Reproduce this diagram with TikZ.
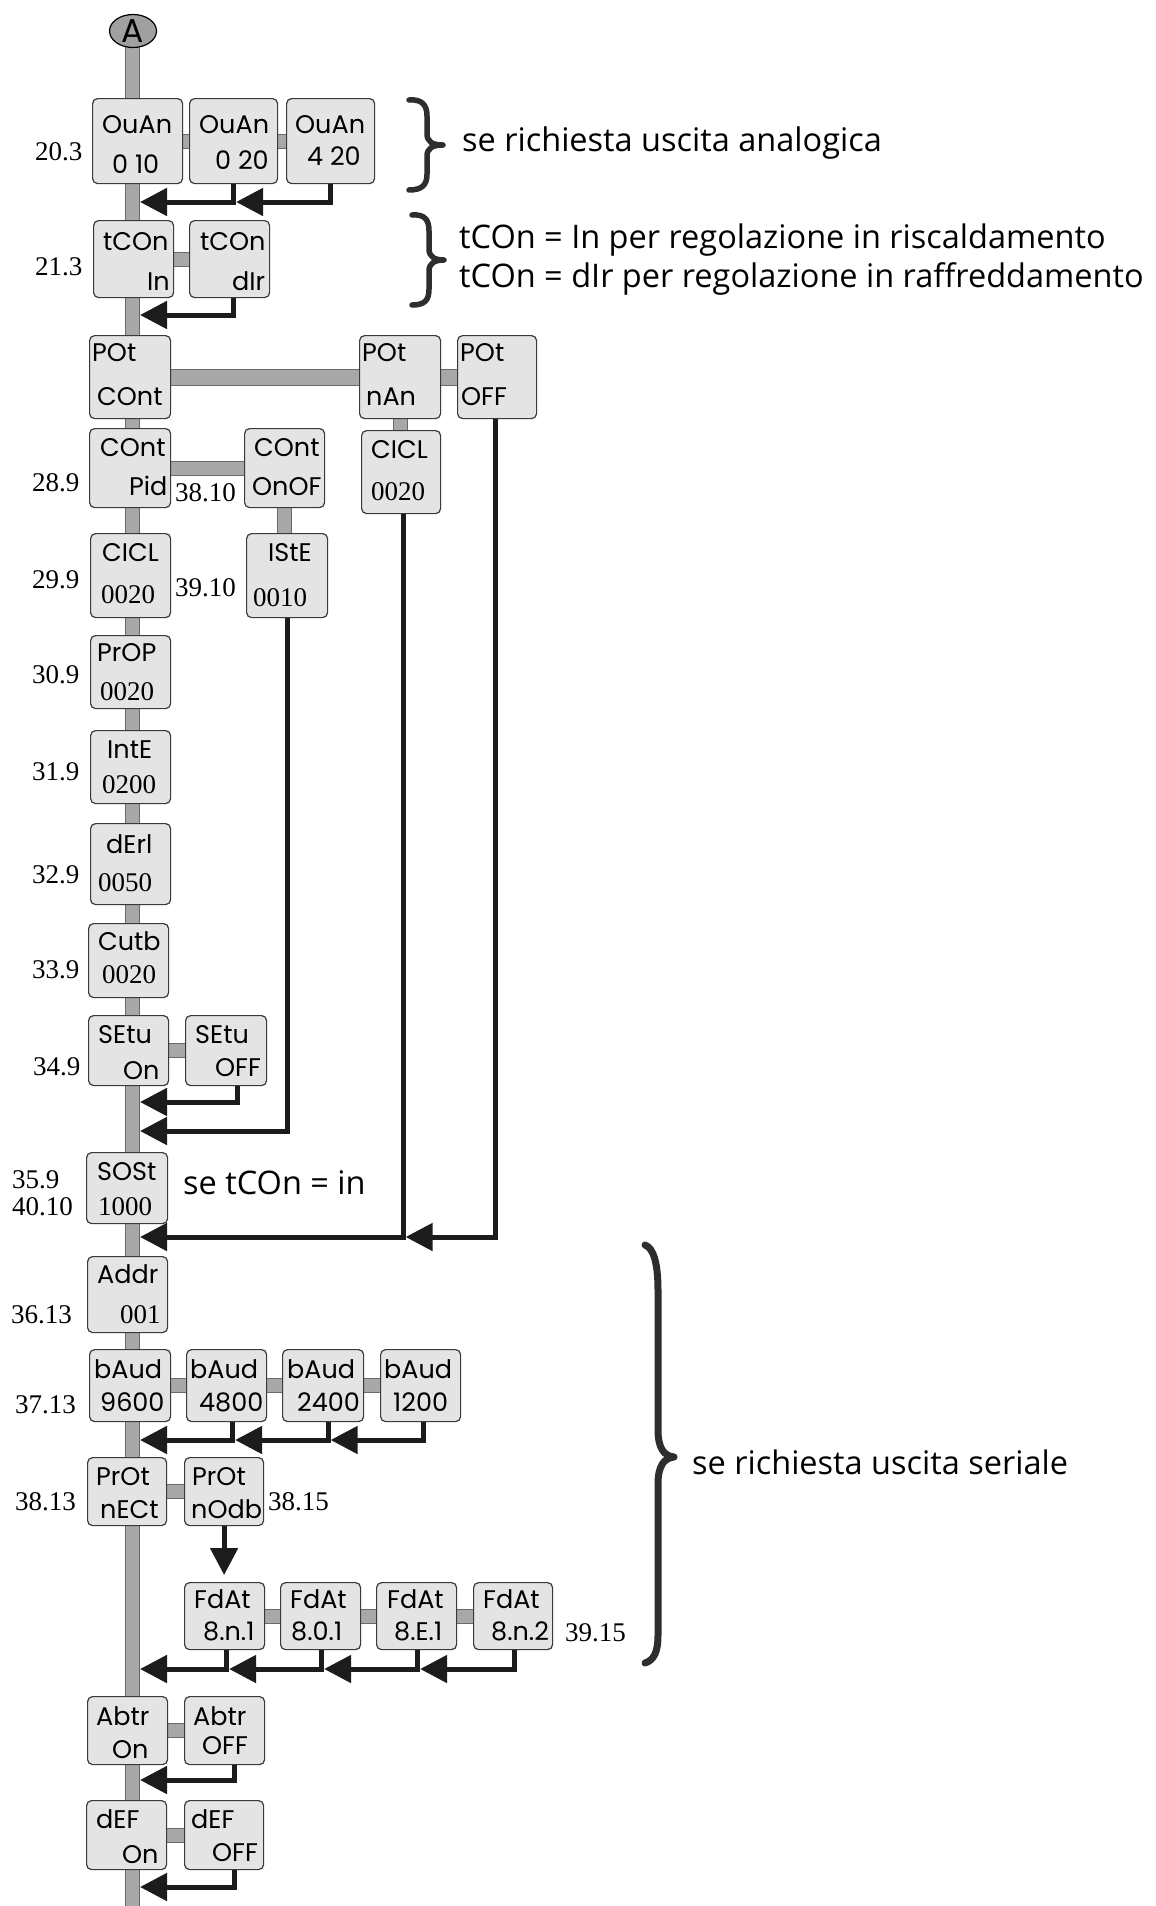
\documentclass[tikz,border=0pt]{standalone}
\usepackage{fontspec}
\setmainfont{Liberation Serif}
\newfontfamily\gothic{Poppins}
\newfontfamily\comic{Open Sans}
\usetikzlibrary{arrows.meta,shapes.geometric,backgrounds}

\definecolor{boxfill}{HTML}{E4E4E4}
\definecolor{boxedge}{HTML}{3A3A3A}
\definecolor{barfill}{HTML}{A8A8A8}
\definecolor{baredge}{HTML}{6A6A6A}
\definecolor{circfill}{HTML}{A0A0A0}
\definecolor{inkdark}{HTML}{1C1C1C}
\definecolor{bracecol}{HTML}{2E2E2E}

\tikzset{
  pbox/.style={draw=boxedge, fill=boxfill, line width=1.2pt, rounded corners=5pt,
    inner sep=0pt, anchor=north west},
  lab/.style={font=\gothic\fontsize{25.5}{25.5}\selectfont, inner sep=0pt, anchor=west,
    text height=0.7em, text depth=0pt, yshift=-5pt},
  val/.style={font=\fontsize{27}{27}\selectfont, inner sep=0pt, anchor=west,
    text height=0.66em, text depth=0pt, yshift=-5pt},
  side/.style={font=\fontsize{27}{27}\selectfont, inner sep=0pt, anchor=west,
    text height=0.66em, text depth=0pt, yshift=-5pt},
  note/.style={font=\comic\fontsize{32.5}{32.5}\selectfont, inner sep=0pt, anchor=base west},
  bar/.style={draw=baredge, line width=1pt, double=barfill, double distance=13pt},
  widebar/.style={bar, double distance=15pt},
  arr/.style={draw=inkdark, line width=5pt, -{Triangle[length=27pt,width=27pt]}},
  brc/.style={draw=bracecol, line width=5.5pt, line cap=round, line join=round},
}

% panel: name, left x, top y, width, height
\newcommand\drawpanel[5]{\node[pbox, minimum width=#4pt, minimum height=#5pt] (#1) at (#2,#3) {};}
% text inside a panel or beside it: [style], name, left x, centre y, text
\newcommand\paneltext[5][lab]{\node[#1] (#2) at (#3,#4) {#5};}

\begin{document}
\begin{tikzpicture}[x=1pt, y=-1pt]
\useasboundingbox (0,0) rectangle (1156,1906);
\begin{scope}[on background layer]
  \fill[white] (0,0) rectangle (1156,1906);
\end{scope}

% start marker
\node[ellipse, draw=black, line width=1.2pt, fill=circfill, minimum width=47pt,
  minimum height=33pt, inner sep=0pt, font=\gothic\fontsize{33}{33}\selectfont] (A) at (133,31) {A};
\coordinate (trunkEnd) at (132,1912);

% ---- panels ----
\drawpanel{ouanA}{92}{98}{90}{85}
\drawpanel{ouanB}{189}{98}{88}{85}
\drawpanel{ouanC}{286}{98}{88}{85}
\drawpanel{tconA}{93}{220}{80}{77}
\drawpanel{tconB}{189}{220}{80}{77}
\drawpanel{potA}{89}{335}{81}{83}
\drawpanel{potB}{359}{335}{81}{83}
\drawpanel{potC}{457}{335}{79}{83}
\drawpanel{contA}{89}{428}{81}{79}
\drawpanel{contB}{244}{428}{80}{79}
\drawpanel{ciclB}{361}{430}{79}{83}
\drawpanel{ciclA}{90}{533}{80}{84}
\drawpanel{iste}{246}{533}{81}{84}
\drawpanel{prop}{90}{635}{80}{73}
\drawpanel{inte}{90}{730}{80}{73}
\drawpanel{derl}{90}{823}{80}{81}
\drawpanel{cutb}{88}{923}{80}{74}
\drawpanel{setuA}{88}{1015}{80}{70}
\drawpanel{setuB}{185}{1015}{81}{70}
\drawpanel{sost}{86}{1152}{81}{71}
\drawpanel{addr}{87}{1256}{80}{76}
\drawpanel{baudA}{89}{1349}{81}{72}
\drawpanel{baudB}{186}{1349}{80}{72}
\drawpanel{baudC}{282}{1349}{81}{72}
\drawpanel{baudD}{380}{1349}{80}{72}
\drawpanel{protA}{87}{1457}{79}{68}
\drawpanel{protB}{184}{1457}{79}{68}
\drawpanel{fdatA}{184}{1582}{80}{67}
\drawpanel{fdatB}{280}{1582}{80}{67}
\drawpanel{fdatC}{376}{1582}{80}{67}
\drawpanel{fdatD}{473}{1582}{79}{67}
\drawpanel{abtrA}{87}{1696}{80}{68}
\drawpanel{abtrB}{184}{1696}{80}{68}
\drawpanel{defA}{86}{1800}{80}{69}
\drawpanel{defB}{184}{1800}{79}{69}

% ---- grey bars behind the panels ----
\begin{scope}[on background layer]
  \draw[bar] (trunkEnd |- A) -- (trunkEnd);
  \draw[bar] (ouanA.east) -- (ouanB.west);
  \draw[bar] (ouanB.east) -- (ouanC.west);
  \draw[bar] (tconA.east) -- (tconB.west);
  \draw[widebar] (potA.east) -- (potB.west);
  \draw[widebar] (potB.east) -- (potC.west);
  \draw[bar] (contA.east) -- (contB.west);
  \draw[bar] (potB.south) -- (potB.south |- ciclB.north);
  \draw[bar] (contB.south) -- (contB.south |- iste.north);
  \draw[bar] (setuA.east) -- (setuB.west);
  \draw[bar] (baudA.east) -- (baudB.west);
  \draw[bar] (baudB.east) -- (baudC.west);
  \draw[bar] (baudC.east) -- (baudD.west);
  \draw[bar] (protA.east) -- (protB.west);
  \draw[bar] (fdatA.east) -- (fdatB.west);
  \draw[bar] (fdatB.east) -- (fdatC.west);
  \draw[bar] (fdatC.east) -- (fdatD.west);
  \draw[bar] (abtrA.east) -- (abtrB.west);
  \draw[bar] (defA.east) -- (defB.west);
\end{scope}

% ---- panel texts ----
\paneltext{ouanA-t}{102}{125}{OuAn} \paneltext{ouanA-b}{112}{165}{0 10}
\paneltext{ouanB-t}{199}{125}{OuAn} \paneltext{ouanB-b}{215}{161}{0 20}
\paneltext{ouanC-t}{295}{125}{OuAn} \paneltext{ouanC-b}{307}{157}{4 20}
\paneltext{tconA-t}{103}{242}{tCOn} \paneltext{tconA-b}{147}{282}{In}
\paneltext{tconB-t}{200}{242}{tCOn} \paneltext{tconB-b}{232}{282}{dIr}
\paneltext{potA-t}{92}{353}{POt}    \paneltext{potA-b}{97}{397}{COnt}
\paneltext{potB-t}{362}{353}{POt}   \paneltext{potB-b}{366}{397}{nAn}
\paneltext{potC-t}{460}{353}{POt}   \paneltext{potC-b}{461}{397}{OFF}
\paneltext{contA-t}{100}{448}{COnt} \paneltext{contA-b}{129}{487}{Pid}
\paneltext{contB-t}{254}{448}{COnt} \paneltext{contB-b}{252}{487}{OnOF}
\paneltext{ciclB-t}{371}{450}{CICL} \paneltext[val]{ciclB-b}{371}{492}{0020}
\paneltext{ciclA-t}{102}{553}{CICL} \paneltext[val]{ciclA-b}{101}{595}{0020}
\paneltext{iste-t}{268}{553}{IStE}  \paneltext[val]{iste-b}{253}{598}{0010}
\paneltext{prop-t}{97}{653}{PrOP}   \paneltext[val]{prop-b}{100}{692}{0020}
\paneltext{inte-t}{107}{750}{IntE}  \paneltext[val]{inte-b}{102}{785}{0200}
\paneltext{derl-t}{106}{845}{dErl}  \paneltext[val]{derl-b}{98}{883}{0050}
\paneltext{cutb-t}{98}{942}{Cutb}   \paneltext[val]{cutb-b}{102}{975}{0020}
\paneltext{setuA-t}{98}{1035}{SEtu} \paneltext{setuA-b}{123}{1071}{On}
\paneltext{setuB-t}{195}{1035}{SEtu} \paneltext{setuB-b}{215}{1068}{OFF}
\paneltext{sost-t}{97}{1172}{SOSt}  \paneltext[val]{sost-b}{98}{1207}{1000}
\paneltext{addr-t}{97}{1275}{Addr}  \paneltext[val]{addr-b}{120}{1315}{001}
\paneltext{baudA-t}{94}{1370}{bAud}  \paneltext{baudA-b}{100}{1403}{9600}
\paneltext{baudB-t}{190}{1370}{bAud} \paneltext{baudB-b}{199}{1403}{4800}
\paneltext{baudC-t}{287}{1370}{bAud} \paneltext{baudC-b}{297}{1403}{2400}
\paneltext{baudD-t}{384}{1370}{bAud} \paneltext{baudD-b}{393}{1403}{1200}
\paneltext{protA-t}{96}{1477}{PrOt}  \paneltext{protA-b}{100}{1510}{nECt}
\paneltext{protB-t}{192}{1477}{PrOt} \paneltext{protB-b}{191}{1510}{nOdb}
\paneltext{fdatA-t}{194}{1600}{FdAt} \paneltext{fdatA-b}{203}{1632}{8.n.1}
\paneltext{fdatB-t}{290}{1600}{FdAt} \paneltext{fdatB-b}{291}{1632}{8.0.1}
\paneltext{fdatC-t}{387}{1600}{FdAt} \paneltext{fdatC-b}{394}{1632}{8.E.1}
\paneltext{fdatD-t}{483}{1600}{FdAt} \paneltext{fdatD-b}{491}{1632}{8.n.2}
\paneltext{abtrA-t}{96}{1717}{Abtr}  \paneltext{abtrA-b}{112}{1750}{On}
\paneltext{abtrB-t}{193}{1717}{Abtr} \paneltext{abtrB-b}{202}{1746}{OFF}
\paneltext{defA-t}{96}{1820}{dEF}    \paneltext{defA-b}{122}{1855}{On}
\paneltext{defB-t}{191}{1820}{dEF}   \paneltext{defB-b}{212}{1853}{OFF}

% ---- parameter numbers ----
\paneltext[side]{n20}{35}{152}{20.3}
\paneltext[side]{n21}{35}{267}{21.3}
\paneltext[side]{n28}{32}{483}{28.9}
\paneltext[side]{n38a}{175}{493}{38.10}
\paneltext[side]{n29}{32}{580}{29.9}
\paneltext[side]{n39a}{175}{588}{39.10}
\paneltext[side]{n30}{32}{675}{30.9}
\paneltext[side]{n31}{32}{772}{31.9}
\paneltext[side]{n32}{32}{875}{32.9}
\paneltext[side]{n33}{32}{970}{33.9}
\paneltext[side]{n34}{33}{1067}{34.9}
\paneltext[side]{n35}{12}{1180}{35.9}
\paneltext[side]{n40}{12}{1207}{40.10}
\paneltext[side]{n36}{11}{1315}{36.13}
\paneltext[side]{n37}{15}{1405}{37.13}
\paneltext[side]{n38b}{15}{1502}{38.13}
\paneltext[side]{n38c}{268}{1502}{38.15}
\paneltext[side]{n39b}{565}{1633}{39.15}

% ---- return arrows onto the main line ----
\coordinate (tOuan) at (140,202);
\coordinate (tTcon) at (140,315);
\coordinate (tSetu) at (140,1102);
\coordinate (tIste) at (140,1131);
\coordinate (tSost) at (140,1237);
\coordinate (tBaud) at (140,1440);
\coordinate (tFdat) at (140,1669);
\coordinate (tAbtr) at (140,1780);
\coordinate (tDef)  at (140,1887);

\draw[arr] (ouanB.south) |- (tOuan);
\draw[arr] (ouanC.south) |- ([xshift=2.5pt]ouanB.south |- tOuan);
\draw[arr] ([xshift=4pt]tconB.south) |- (tTcon);
\draw[arr] ([xshift=11pt]setuB.south) |- (tSetu);
\draw[arr] (iste.south) |- (tIste);
\draw[arr] ([xshift=2pt]ciclB.south) |- (tSost);
\draw[arr] ([xshift=-2pt]potC.south) |- ([xshift=4.5pt]ciclB.south |- tSost);
\draw[arr] ([xshift=6pt]baudB.south) |- (tBaud);
\draw[arr] ([xshift=5pt]baudC.south) |- ([xshift=8.5pt]baudB.south |- tBaud);
\draw[arr] ([xshift=3pt]baudD.south) |- ([xshift=7.5pt]baudC.south |- tBaud);
\draw[arr] (protB.south) -- ([yshift=7pt]protB.south |- fdatA.north);
\draw[arr] ([xshift=2pt]fdatA.south) |- (tFdat);
\draw[arr] ([xshift=1pt]fdatB.south) |- ([xshift=4.5pt]fdatA.south |- tFdat);
\draw[arr] ([xshift=1pt]fdatC.south) |- ([xshift=3.5pt]fdatB.south |- tFdat);
\draw[arr] ([xshift=1pt]fdatD.south) |- ([xshift=3.5pt]fdatC.south |- tFdat);
\draw[arr] ([xshift=10pt]abtrB.south) |- (tAbtr);
\draw[arr] ([xshift=10pt]defB.south) |- (tDef);

% ---- braces and notes ----
\draw[brc] (409,100) .. controls (422,99) and (427,105) .. (427,116) -- (427,134)
  .. controls (427,142) and (433,145) .. (443,145)
  .. controls (433,145) and (427,148) .. (427,156) -- (427,174)
  .. controls (427,185) and (422,190) .. (409,190);
\draw[brc] (412,215) .. controls (425,214) and (429,220) .. (429,231) -- (429,249)
  .. controls (429,257) and (435,260) .. (444,260)
  .. controls (435,260) and (429,263) .. (429,271) -- (429,289)
  .. controls (429,300) and (425,305) .. (412,305);
\draw[brc, line width=7pt] (645,1245) .. controls (654,1248) and (658,1265) .. (658,1290) -- (658,1430)
  .. controls (658,1448) and (664,1456) .. (674,1457)
  .. controls (664,1458) and (658,1466) .. (658,1484) -- (658,1635)
  .. controls (658,1652) and (654,1660) .. (645,1663);

\node[note] (noteAn) at (462,151) {se richiesta uscita analogica};
\node[note] (noteIn) at (459,248) {tCOn = In per regolazione in riscaldamento};
\node[note] (noteDir) at (459,287) {tCOn = dIr per regolazione in raffreddamento};
\node[note] (noteSost) at (183,1194) {se tCOn = in};
\node[note] (noteSer) at (692,1474) {se richiesta uscita seriale};
\end{tikzpicture}
\end{document}
